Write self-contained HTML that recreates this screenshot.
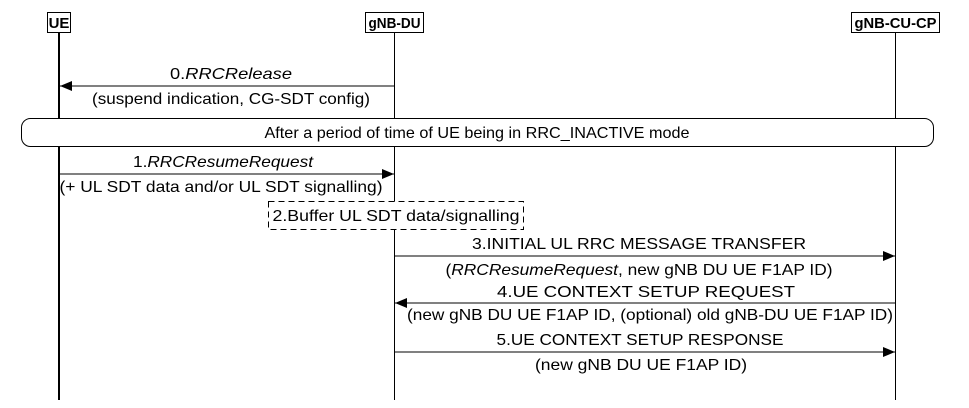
<!DOCTYPE html>
<html><head><meta charset="utf-8"><style>
html,body{margin:0;padding:0;background:#fff;}
svg{display:block;}
text{font-family:"Liberation Sans",Arial,sans-serif;font-size:16px;fill:#000;}
.b{font-weight:bold;font-size:15px;}
</style></head><body>
<svg width="969" height="408" viewBox="0 0 969 408" xmlns="http://www.w3.org/2000/svg">
<defs>
<marker id="a" markerWidth="12" markerHeight="10" refX="12" refY="5" orient="auto" markerUnits="userSpaceOnUse"><path d="M0,0 L12,5 L0,10 z" fill="#000"/></marker>
</defs>
<line x1="59" y1="32" x2="59" y2="400" stroke="#000" stroke-width="2"/>
<line x1="394.5" y1="32" x2="394.5" y2="400" stroke="#000" stroke-width="1"/>
<line x1="895.5" y1="32" x2="895.5" y2="400" stroke="#000" stroke-width="1"/>
<rect x="47.5" y="12.5" width="23" height="20" fill="#fff" stroke="#000"/>
<text x="59" y="28" text-anchor="middle" class="b">UE</text>
<rect x="365.5" y="12.5" width="58" height="20" fill="#fff" stroke="#000"/>
<text x="394.5" y="28" text-anchor="middle" class="b" textLength="52" lengthAdjust="spacingAndGlyphs">gNB-DU</text>
<rect x="851.5" y="12.5" width="88" height="20" fill="#fff" stroke="#000"/>
<text x="895.5" y="28" text-anchor="middle" class="b" textLength="82" lengthAdjust="spacingAndGlyphs">gNB-CU-CP</text>
<line x1="394" y1="86" x2="60" y2="86" stroke="#000" marker-end="url(#a)"/>
<text x="231" y="79" text-anchor="middle" textLength="122" lengthAdjust="spacingAndGlyphs">0.<tspan font-style="italic">RRCRelease</tspan></text>
<text x="231" y="104" text-anchor="middle" textLength="278" lengthAdjust="spacingAndGlyphs">(suspend indication, CG-SDT config)</text>
<rect x="21.5" y="118.5" width="912" height="28" rx="9" fill="#fff" stroke="#000"/>
<text x="477" y="138" text-anchor="middle" textLength="425" lengthAdjust="spacingAndGlyphs">After a period of time of UE being in RRC_INACTIVE mode</text>
<line x1="60" y1="174" x2="394" y2="174" stroke="#000" marker-end="url(#a)"/>
<text x="223" y="167" text-anchor="middle" textLength="180" lengthAdjust="spacingAndGlyphs">1.<tspan font-style="italic">RRCResumeRequest</tspan></text>
<text x="221" y="192" text-anchor="middle" textLength="323" lengthAdjust="spacingAndGlyphs">(+ UL SDT data and/or UL SDT signalling)</text>
<rect x="268.5" y="201.5" width="255" height="28" fill="#fff" stroke="#000" stroke-dasharray="6,4"/>
<text x="396" y="221" text-anchor="middle" textLength="247" lengthAdjust="spacingAndGlyphs">2.Buffer UL SDT data/signalling</text>
<line x1="395" y1="256" x2="895" y2="256" stroke="#000" marker-end="url(#a)"/>
<text x="639" y="249" text-anchor="middle" textLength="334" lengthAdjust="spacingAndGlyphs">3.INITIAL UL RRC MESSAGE TRANSFER</text>
<text x="639" y="275" text-anchor="middle" textLength="387" lengthAdjust="spacingAndGlyphs">(<tspan font-style="italic">RRCResumeRequest</tspan>, new gNB DU UE F1AP ID)</text>
<line x1="895" y1="303" x2="395" y2="303" stroke="#000" marker-end="url(#a)"/>
<text x="646" y="297" text-anchor="middle" textLength="298" lengthAdjust="spacingAndGlyphs">4.UE CONTEXT SETUP REQUEST</text>
<text x="650" y="320" text-anchor="middle" textLength="486" lengthAdjust="spacingAndGlyphs">(new gNB DU UE F1AP ID, (optional) old gNB-DU UE F1AP ID)</text>
<line x1="395" y1="352" x2="895" y2="352" stroke="#000" marker-end="url(#a)"/>
<text x="640" y="345" text-anchor="middle" textLength="287" lengthAdjust="spacingAndGlyphs">5.UE CONTEXT SETUP RESPONSE</text>
<text x="641" y="370" text-anchor="middle" textLength="212" lengthAdjust="spacingAndGlyphs">(new gNB DU UE F1AP ID)</text>
</svg>
</body></html>
